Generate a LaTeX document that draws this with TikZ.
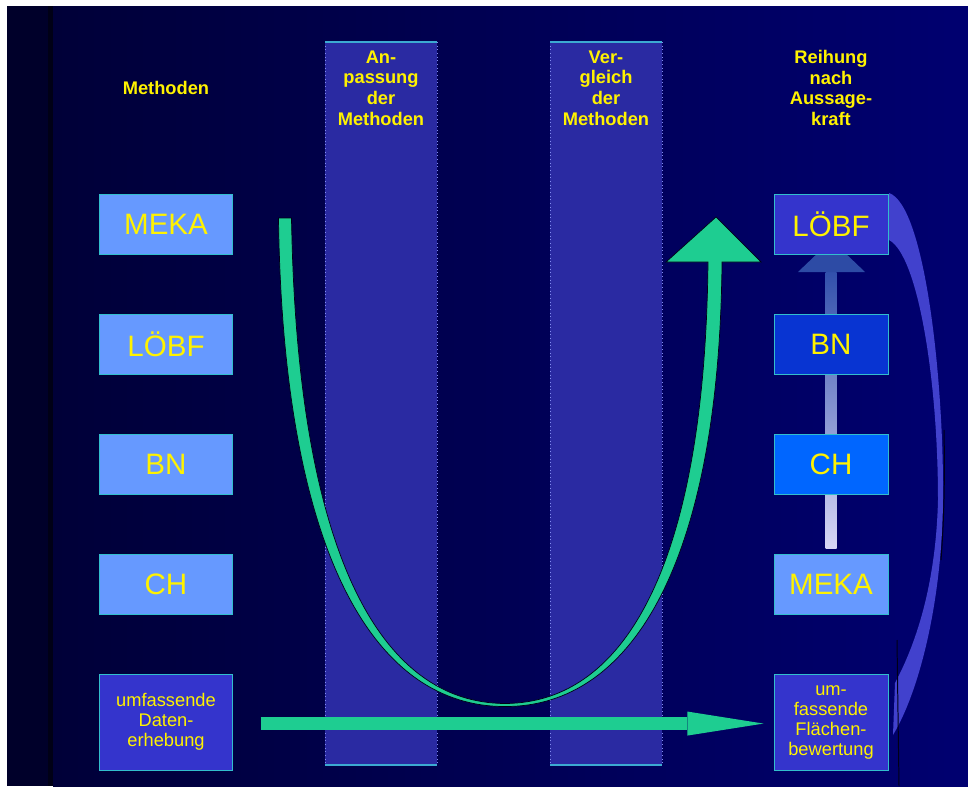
\documentclass[tikz,border=0pt]{standalone}
\usepackage{fontspec}
\setmainfont{Liberation Sans}
\usetikzlibrary{arrows.meta, positioning, calc}

\definecolor{bgstrip}{RGB}{0,0,42}
\definecolor{bgline}{RGB}{0,0,22}
\definecolor{bgleft}{RGB}{0,0,56}
\definecolor{bgright}{RGB}{0,0,112}
\definecolor{bandblue}{RGB}{42,42,162}
\definecolor{bandtop}{RGB}{60,170,210}
\definecolor{banddot}{RGB}{130,140,240}
\definecolor{lightbox}{RGB}{102,153,255}
\definecolor{midbox}{RGB}{52,52,204}
\definecolor{deepbox}{RGB}{8,52,210}
\definecolor{brightbox}{RGB}{0,102,255}
\definecolor{boxedge}{RGB}{50,190,205}
\definecolor{arrowgreen}{RGB}{30,205,145}
\definecolor{rankhead}{RGB}{45,75,165}
\definecolor{ranktop}{RGB}{50,80,172}
\definecolor{rankfoot}{RGB}{215,215,245}
\definecolor{loopblue}{RGB}{65,65,205}

\begin{document}
\begin{tikzpicture}[
  x=0.025cm, y=-0.025cm,
  method/.style = {draw=boxedge, line width=0.7pt, fill=lightbox, text=yellow,
    minimum width=3.3cm, minimum height=1.5cm, inner sep=0pt,
    font=\fontsize{21}{25}\selectfont},
  rank/.style = {method, minimum width=2.85cm},
  survey/.style = {draw=boxedge, line width=0.7pt, fill=midbox, text=yellow,
    minimum height=2.4cm, inner sep=0pt, align=center,
    font=\fontsize{13}{14.2}\selectfont},
  heading/.style = {text=yellow, align=center, font=\bfseries\fontsize{13}{14.7}\selectfont},
  band/.style = {fill=bandblue},
  greenarrow/.style = {draw=arrowgreen, line width=0.325cm,
    -{Triangle[length=1.9cm, width=0.6cm, line width=0pt]}},
  node distance=1.475cm
]

  % page and background
  \fill[white] (0,0) rectangle (968,789);
  \useasboundingbox (0,0) rectangle (968,789);
  \fill[bgstrip] (7,6) rectangle (48,786);
  \fill[bgline] (48,6) rectangle (53,786);
  \shade[left color=bgleft, right color=bgright] (53,6) rectangle (968,786);

  % two process bands
  \foreach \bx in {325,550} {
    \fill[band] (\bx,42) rectangle (\bx+112,765);
    \draw[banddot, line width=0.6pt, dotted] (\bx,42) -- (\bx,765);
    \draw[banddot, line width=0.6pt, dotted] (\bx+112,42) -- (\bx+112,765);
    \draw[bandtop, line width=1.4pt] (\bx,42) -- (\bx+112,42);
    \draw[bandtop, line width=1.4pt] (\bx,765) -- (\bx+112,765);
  }

  % headings
  \node[heading] (hmeth) at (166,88) {Methoden};
  \node[heading] (hanp) at (381,88) {An-\\passung\\der\\Methoden};
  \node[heading] (hvgl) at (606,88) {Ver-\\gleich\\der\\Methoden};
  \node[heading] (hrei) at (831,88) {Reihung\\nach\\Aussage-\\kraft};

  % left column (methods)
  \node[method] (meka) at (166,224) {MEKA};
  \node[method, below=of meka] (loebf) {LÖBF};
  \node[method, below=of loebf] (bn) {BN};
  \node[method, below=of bn] (ch) {CH};
  \node[survey, minimum width=3.3cm, below=of ch] (daten) {umfassende\\Daten-\\erhebung};

  % ranking arrow (behind the right column)
  \coordinate (rankbase) at (831,272);
  \shade[top color=ranktop, bottom color=rankfoot]
    ($(rankbase)+(-5.5,0)$) rectangle ($(rankbase)+(5.5,276)$);
  \fill[rankhead] ($(rankbase)+(-33,0)$) -- ($(rankbase)+(34,0)$) -- ($(rankbase)+(0.5,-32)$) -- cycle;

  % loop back from the top rank to the area rating
  \fill[loopblue] (889,193) .. controls (925,205) and (944,380) .. (943,500)
    .. controls (942,600) and (920,690) .. (893,735)
    -- (895,683)
    .. controls (918,640) and (936,580) .. (938,500)
    .. controls (938,380) and (918,255) .. (889,240) -- cycle;
  \draw[bgline, line width=0.7pt] (944,430) .. controls (945,480) and (944,520) .. (941,560);
  \draw[bgline, line width=0.7pt] (897,640) -- (899,786);

  % right column (ranking)
  \node[rank, fill=midbox] (rloebf) at (831,224) {LÖBF};
  \node[rank, fill=deepbox, below=of rloebf] (rbn) {BN};
  \node[rank, fill=brightbox, below=of rbn] (rch) {CH};
  \node[rank, below=of rch] (rmeka) {MEKA};
  \node[survey, minimum width=2.85cm, below=of rmeka] (flaeche) {um-\\fassende\\Flächen-\\bewertung};

  % U arrow through both bands
  \fill[arrowgreen, draw=bgline, line width=0.5pt]
    (278.5,218) .. controls (283,562) and (378,707) .. (505,706.5)
    .. controls (632,707) and (719.5,562) .. (722,262)
    -- (761,262) -- (716,217) -- (666,262) -- (708,262)
    .. controls (705,558) and (628,703) .. (505,703.5)
    .. controls (382,703) and (297,558) .. (291.5,218) -- cycle;

  % data survey -> area rating
  \draw[greenarrow] ($(daten.east)+(28,1.5)$) -- ($(flaeche.west)+(-10,1.5)$);

\end{tikzpicture}
\end{document}
